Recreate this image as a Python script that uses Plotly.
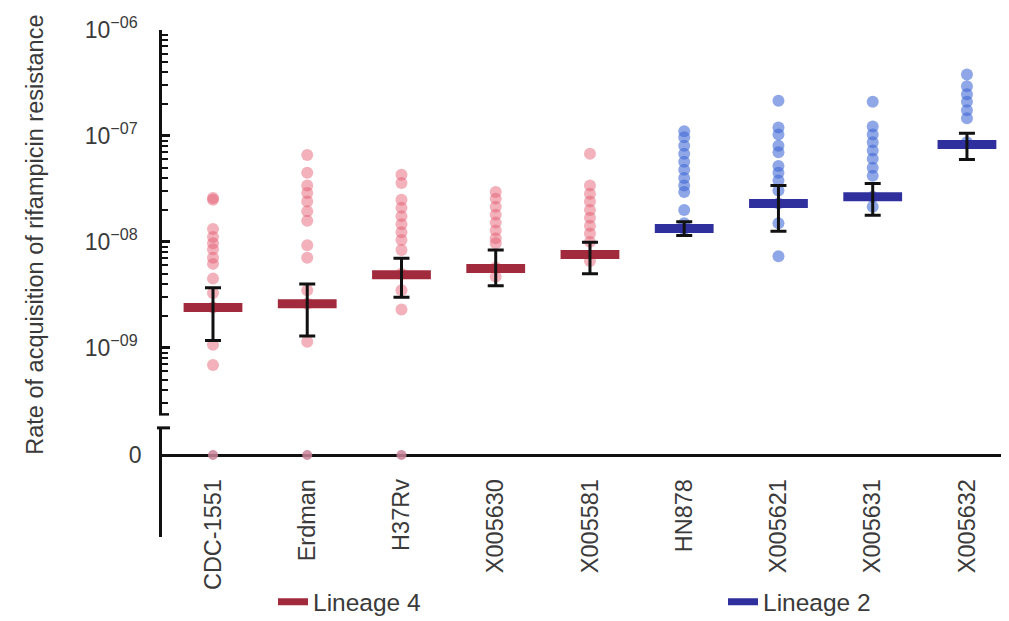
import plotly.graph_objects as go

strains = ["CDC-1551", "Erdman", "H37Rv", "X005630", "X005581",
           "HN878", "X005621", "X005631", "X005632"]
lineage4 = ["CDC-1551", "Erdman", "H37Rv", "X005630", "X005581"]
lineage2 = ["HN878", "X005621", "X005631", "X005632"]

rates = {
    "CDC-1551": [2.6e-8, 2.5e-8, 1.32e-8, 1.11e-8, 9.7e-9, 8.5e-9, 7.1e-9, 6.2e-9,
                 4.5e-9, 3.3e-9, 2.4e-9, 1.07e-9, 6.9e-10],
    "Erdman": [6.6e-8, 4.5e-8, 3.4e-8, 2.9e-8, 2.4e-8, 1.95e-8, 1.58e-8, 9.3e-9,
               7.1e-9, 3.5e-9, 2.6e-9, 1.14e-9],
    "H37Rv": [4.3e-8, 3.6e-8, 2.5e-8, 2.1e-8, 1.75e-8, 1.47e-8, 1.23e-8, 1.04e-8,
              8.4e-9, 5.0e-9, 3.5e-9, 2.3e-9],
    "X005630": [2.95e-8, 2.56e-8, 2.15e-8, 1.8e-8, 1.52e-8, 1.28e-8, 1.08e-8, 9.7e-9,
                5.7e-9, 4.7e-9],
    "X005581": [6.8e-8, 3.4e-8, 2.85e-8, 2.4e-8, 2.0e-8, 1.69e-8, 1.42e-8, 1.2e-8,
                1.0e-8, 6.6e-9],
    "HN878": [1.11e-7, 9.7e-8, 8.1e-8, 6.8e-8, 5.7e-8, 4.8e-8, 4.0e-8, 3.4e-8,
              2.95e-8, 2.0e-8, 1.5e-8, 1.32e-8],
    "X005621": [2.15e-7, 1.2e-7, 1.03e-7, 8.1e-8, 7.0e-8, 5.2e-8, 4.5e-8, 3.8e-8,
                3.05e-8, 2.3e-8, 1.5e-8, 7.3e-9],
    "X005631": [2.1e-7, 1.23e-7, 1.03e-7, 8.7e-8, 7.3e-8, 6.1e-8, 5.0e-8, 4.2e-8,
                2.66e-8, 2.15e-8],
    "X005632": [3.8e-7, 2.95e-7, 2.48e-7, 2.1e-7, 1.75e-7, 1.47e-7, 8.7e-8],
}
zero_strains = ["CDC-1551", "Erdman", "H37Rv"]
zero_values = [0, 0, 0]

medians = [2.4e-9, 2.6e-9, 4.9e-9, 5.6e-9, 7.6e-9, 1.34e-8, 2.3e-8, 2.66e-8, 8.3e-8]
ci_low = [1.17e-9, 1.29e-9, 3.0e-9, 3.85e-9, 5.0e-9, 1.15e-8, 1.26e-8, 1.78e-8, 6.0e-8]
ci_high = [3.7e-9, 4.0e-9, 7.0e-9, 8.4e-9, 9.9e-9, 1.55e-8, 3.4e-8, 3.56e-8, 1.06e-7]

major_vals = [1e-9, 1e-8, 1e-7, 1e-6]
major_text = ["10<sup>−09</sup>", "10<sup>−08</sup>", "10<sup>−07</sup>", "10<sup>−06</sup>"]
minor_vals = [m * 10.0 ** e for e in (-10, -9, -8, -7) for m in range(2, 10) if m * 10.0 ** e >= 3e-10]

RED_PT = "rgba(228,92,112,0.48)"
BLUE_PT = "rgba(62,104,212,0.58)"
RED_BAR = "#a22a3d"
BLUE_BAR = "#2f2f9e"
FONT = "Liberation Sans, Arial, Helvetica, sans-serif"
TXT = "#3a3a3a"

fig = go.Figure()

# individual points
for group, col in ((lineage4, RED_PT), (lineage2, BLUE_PT)):
    xs, ys = [], []
    for s in group:
        xs += [s] * len(rates[s])
        ys += rates[s]
    fig.add_trace(go.Scatter(x=xs, y=ys, mode="markers", showlegend=False,
                             marker=dict(size=12, color=col, line=dict(width=0)),
                             yaxis="y", xaxis="x", hoverinfo="skip"))

# zero points
fig.add_trace(go.Scatter(x=zero_strains, y=zero_values, mode="markers", showlegend=False,
                         marker=dict(size=10, color="rgba(200,130,150,0.85)"),
                         yaxis="y2", xaxis="x", cliponaxis=False))

# median bars
bar_cols = [RED_BAR if s in lineage4 else BLUE_BAR for s in strains]
fig.add_trace(go.Scatter(x=strains, y=medians, mode="markers", showlegend=False,
                         marker=dict(symbol="line-ew", size=42, color=bar_cols,
                                     line=dict(width=9, color=bar_cols)),
                         yaxis="y", xaxis="x"))

# error bars
fig.add_trace(go.Scatter(
    x=strains, y=medians, mode="markers", showlegend=False,
    marker=dict(size=1, color="rgba(0,0,0,0)"),
    error_y=dict(type="data", symmetric=False,
                 array=[h - m for h, m in zip(ci_high, medians)],
                 arrayminus=[m - l for m, l in zip(medians, ci_low)],
                 color="#111111", thickness=3, width=8),
    yaxis="y", xaxis="x"))

# legend entries
fig.add_trace(go.Scatter(x=[None], y=[None], mode="lines", name="Lineage 4",
                         line=dict(color=RED_BAR, width=7), legend="legend"))
fig.add_trace(go.Scatter(x=[None], y=[None], mode="lines", name="Lineage 2",
                         line=dict(color=BLUE_BAR, width=7), legend="legend2"))

H = 525.0
W = 850.0
def py(pix):
    return (545 - pix) / H
def px(pix):
    return (pix - 154) / W

fig.update_layout(
    width=1009, height=621,
    margin=dict(l=154, r=5, t=20, b=76),
    paper_bgcolor="white", plot_bgcolor="white",
    font=dict(family=FONT, size=22, color=TXT),
    xaxis=dict(type="category", categoryorder="array", categoryarray=strains,
               range=[-0.541, 8.478], anchor="free", position=py(460),
               showline=True, linecolor="#111", linewidth=2.5,
               ticks="", tickangle=-90, tickfont=dict(size=23.5, color=TXT),
               ticklabelstandoff=13, showgrid=False, zeroline=False),
    yaxis=dict(type="log", domain=[py(418), 1], range=[-9.628, -6],
               showline=True, linecolor="#111", linewidth=2.5,
               tickmode="array", tickvals=major_vals, ticktext=major_text,
               ticks="inside", ticklen=8, tickwidth=2.5, tickcolor="#111",
               tickfont=dict(size=23, color=TXT), ticklabelstandoff=17,
               minor=dict(tickmode="array", tickvals=minor_vals, ticks="inside",
                          ticklen=6, tickwidth=2, tickcolor="#111", showgrid=False),
               showgrid=False, zeroline=False),
    yaxis2=dict(domain=[0, py(432)], range=[-0.752, 0.248],
                showline=True, linecolor="#111", linewidth=2.5,
                tickmode="array", tickvals=[0], ticktext=["0"], ticks="",
                tickfont=dict(size=23, color=TXT), ticklabelstandoff=13,
                showgrid=False, zeroline=False, anchor="x"),
    legend=dict(x=px(265), y=py(612), xanchor="left", yanchor="middle",
                font=dict(size=24.5, color=TXT), bgcolor="rgba(0,0,0,0)"),
    legend2=dict(x=px(715), y=py(612), xanchor="left", yanchor="middle",
                 font=dict(size=24.5, color=TXT), bgcolor="rgba(0,0,0,0)"),
    annotations=[dict(text="Rate of acquisition of rifampicin resistance",
                      textangle=-90, xref="paper", yref="paper",
                      x=px(27), y=py(232), xanchor="center", yanchor="middle",
                      showarrow=False, font=dict(size=23.5, color=TXT))],
    shapes=[
        dict(type="line", xref="paper", yref="paper", x0=px(151), x1=px(161),
             y0=py(418), y1=py(418), line=dict(color="#111", width=2.5)),
        dict(type="line", xref="paper", yref="paper", x0=px(149), x1=px(162),
             y0=py(432), y1=py(432), line=dict(color="#111", width=3)),
        dict(type="line", xref="paper", yref="paper", x0=1, x1=1,
             y0=py(448), y1=py(472), line=dict(color="#111", width=3)),
    ],
)

fig.write_html("out.html")
